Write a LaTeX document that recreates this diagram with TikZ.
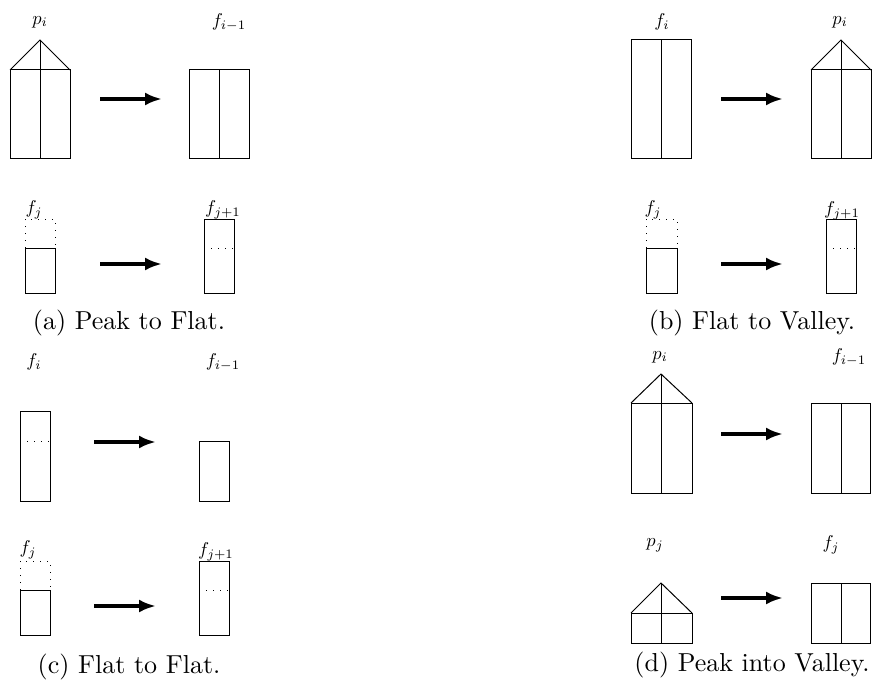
\documentclass[tikz,border=0pt]{standalone}
\usepackage{graphicx}
\usetikzlibrary{arrows.meta}
\newcommand{\lblt}[1]{\scalebox{1.85}{#1}}
\newcommand{\capt}[1]{\scalebox{2.6}{#1}}
\begin{document}
\begin{tikzpicture}[x=1pt,y=-1pt,
  shp/.style={line width=1pt,line join=miter},
  dotline/.style={line width=0.9pt,dash pattern=on 1.4pt off 5.6pt},
  bigarrow/.style={line width=4pt,-{Latex[length=17pt,width=13pt]}},
  lbl/.style={inner sep=0pt},
  captxt/.style={inner sep=0pt}]
\useasboundingbox (0,0) rectangle (873,690);

% ---------- (a) Peak to Flat ----------
\draw[shp] (10,70) rectangle (70,159);
\draw[shp] (10,70) -- (40,40) -- (70,70);
\draw[shp] (40,40) -- (40,159);
\node[lbl] (apl) at (40,22) {\lblt{$p_i$}};
\coordinate (aas) at (100,99); \coordinate (aae) at (162,99);
\draw[bigarrow] (aas) -- (aae);
\draw[shp] (189,70) rectangle (249,159);
\draw[shp] (219,70) -- (219,159);
\node[lbl] (afl) at (229,22) {\lblt{$f_{i-1}$}};

\draw[dotline] (25,248) -- (25,219) -- (55,219) -- (55,248);
\draw[shp] (25,248) rectangle (55,293);
\node[lbl] (afj) at (34,210) {\lblt{$f_j$}};
\coordinate (abs) at (100,264); \coordinate (abe) at (162,264);
\draw[bigarrow] (abs) -- (abe);
\draw[shp] (204,219) rectangle (234,293);
\draw[dotline] (204,248) -- (234,248);
\node[lbl] (afj1) at (223,210) {\lblt{$f_{j+1}$}};
\node[captxt] (capa) at (129,323) {\capt{(a) Peak to Flat.}};

% ---------- (c) Flat to Flat ----------
\draw[shp] (20,411) rectangle (50,501);
\draw[dotline] (20,441) -- (50,441);
\node[lbl] (cfi) at (34,362) {\lblt{$f_i$}};
\coordinate (cas) at (94,442); \coordinate (cae) at (156,442);
\draw[bigarrow] (cas) -- (cae);
\draw[shp] (199,441) rectangle (229,501);
\node[lbl] (cfl) at (223,362) {\lblt{$f_{i-1}$}};

\draw[dotline] (20,590) -- (20,561) -- (50,561) -- (50,590);
\draw[shp] (20,590) rectangle (50,635);
\node[lbl] (cfj) at (28,550) {\lblt{$f_j$}};
\coordinate (cbs) at (94,606); \coordinate (cbe) at (156,606);
\draw[bigarrow] (cbs) -- (cbe);
\draw[shp] (199,561) rectangle (229,635);
\draw[dotline] (199,590) -- (229,590);
\node[lbl] (cfj1) at (216,552) {\lblt{$f_{j+1}$}};
\node[captxt] (capc) at (129,667) {\capt{(c) Flat to Flat.}};

% ---------- (b) Flat to Valley ----------
\draw[shp] (631,40) rectangle (691,159);
\draw[shp] (661,40) -- (661,159);
\node[lbl] (bfi) at (662,22) {\lblt{$f_i$}};
\coordinate (bas) at (721,99); \coordinate (bae) at (783,99);
\draw[bigarrow] (bas) -- (bae);
\draw[shp] (811,70) rectangle (871,159);
\draw[shp] (811,70) -- (841,40) -- (871,70);
\draw[shp] (841,40) -- (841,159);
\node[lbl] (bpi) at (840,22) {\lblt{$p_i$}};

\draw[dotline] (646,248) -- (646,219) -- (677,219) -- (677,248);
\draw[shp] (646,248) rectangle (677,293);
\node[lbl] (bfj) at (653,210) {\lblt{$f_j$}};
\coordinate (bbs) at (721,264); \coordinate (bbe) at (783,264);
\draw[bigarrow] (bbs) -- (bbe);
\draw[shp] (826,219) rectangle (856,293);
\draw[dotline] (826,248) -- (856,248);
\node[lbl] (bfj1) at (842,211) {\lblt{$f_{j+1}$}};
\node[captxt] (capb) at (752,323) {\capt{(b) Flat to Valley.}};

% ---------- (d) Peak into Valley ----------
\draw[shp] (631,403) rectangle (692,493);
\draw[shp] (631,403) -- (661,374) -- (692,403);
\draw[shp] (661,374) -- (661,493);
\node[lbl] (dpi) at (660,357) {\lblt{$p_i$}};
\coordinate (das) at (721,434); \coordinate (dae) at (783,434);
\draw[bigarrow] (das) -- (dae);
\draw[shp] (811,403) rectangle (870,493);
\draw[shp] (841,403) -- (841,493);
\node[lbl] (dfl) at (849,357) {\lblt{$f_{i-1}$}};

\draw[shp] (631,613) rectangle (692,643);
\draw[shp] (631,613) -- (661,583) -- (692,613);
\draw[shp] (661,583) -- (661,643);
\node[lbl] (dpj) at (655,545) {\lblt{$p_j$}};
\coordinate (dbs) at (721,598); \coordinate (dbe) at (783,598);
\draw[bigarrow] (dbs) -- (dbe);
\draw[shp] (811,583) rectangle (870,643);
\draw[shp] (841,583) -- (841,643);
\node[lbl] (dfj) at (831,545) {\lblt{$f_j$}};
\node[captxt] (capd) at (752,665) {\capt{(d) Peak into Valley.}};
\end{tikzpicture}
\end{document}
